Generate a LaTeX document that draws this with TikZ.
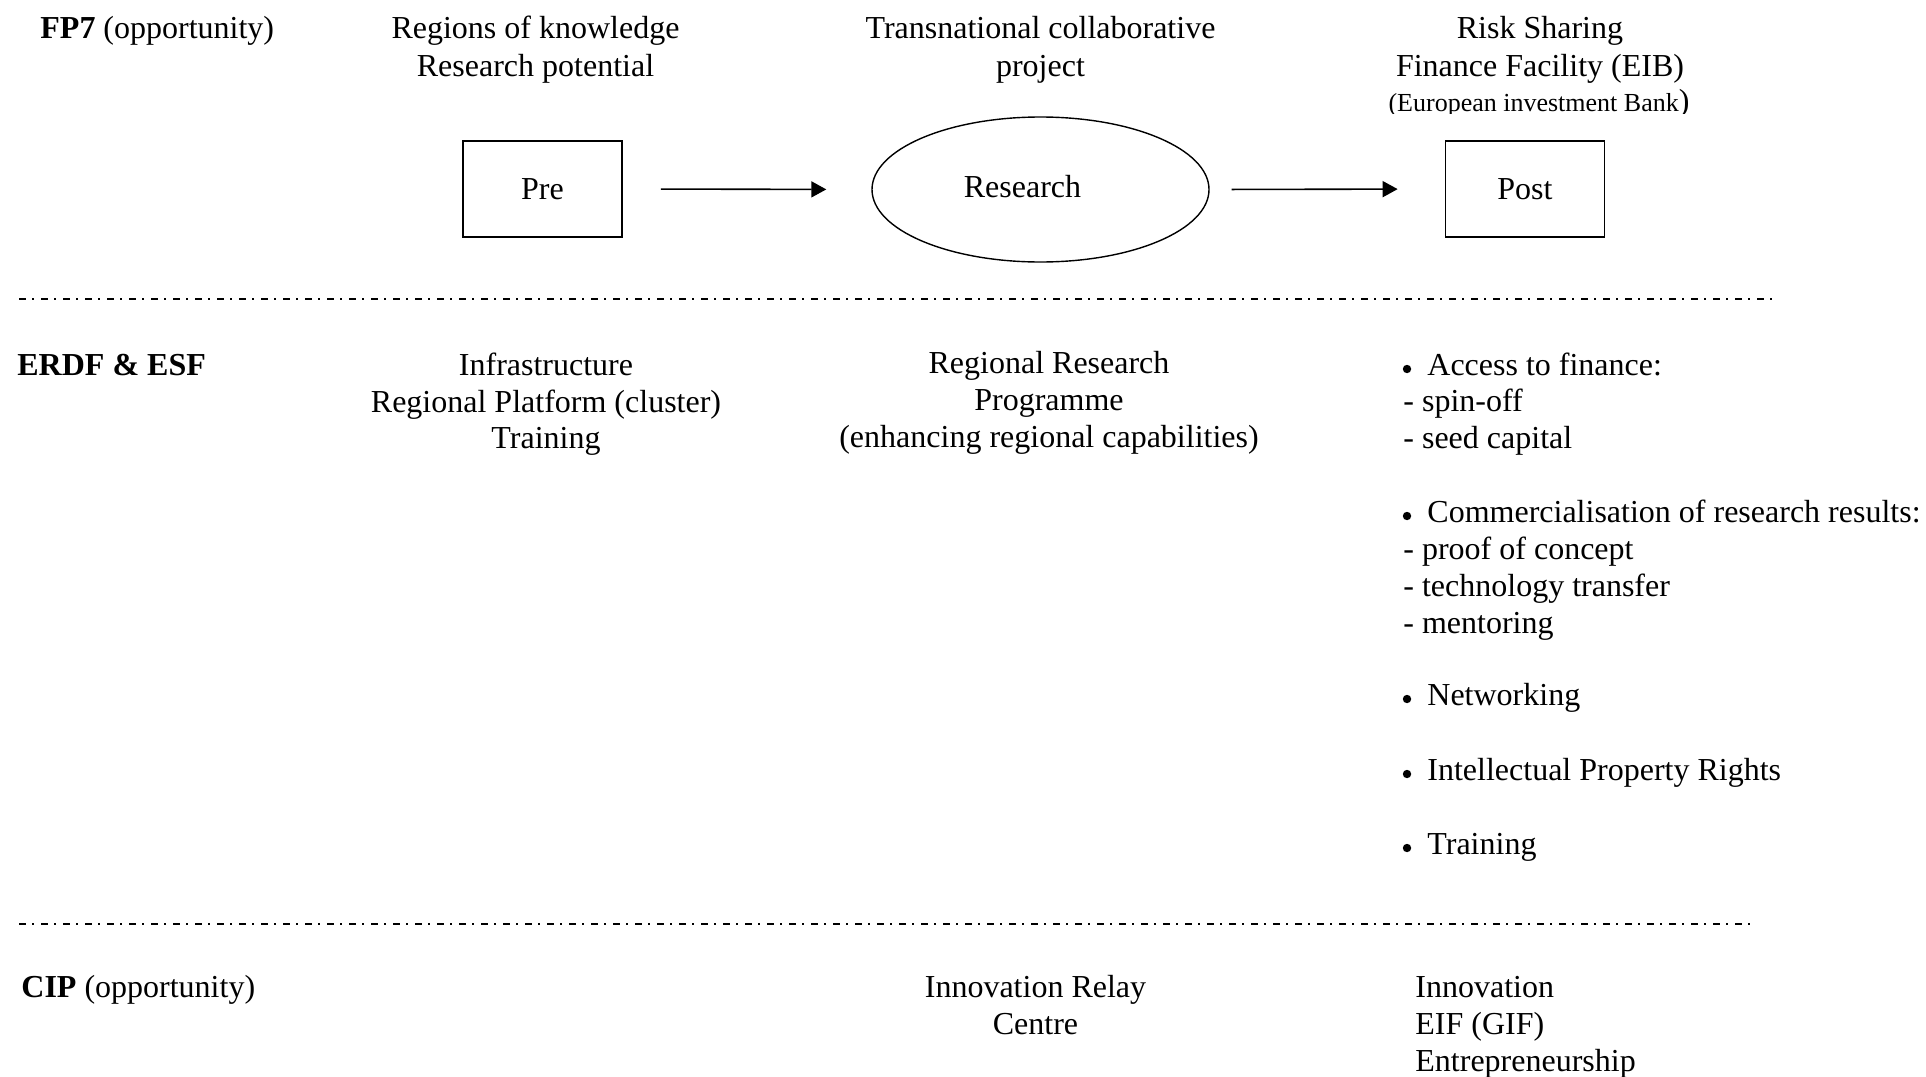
\documentclass[tikz,border=0pt]{standalone}
\usepackage{fontspec}
\setmainfont{Liberation Serif}
\usetikzlibrary{arrows.meta,shapes.geometric}

\begin{document}
\begin{tikzpicture}[x=0.5pt,y=-0.5pt,
  txt/.style={font=\fontsize{16}{18.5}\selectfont, inner sep=0pt, anchor=base},
  ltxt/.style={txt, anchor=base west},
  stagebox/.style={draw, line width=0.85pt, minimum width=79.5pt, minimum height=48pt,
    inner sep=0pt, font=\fontsize{16}{18.5}\selectfont},
  stageoval/.style={draw, ellipse, line width=0.7pt, minimum width=168.5pt,
    minimum height=72.5pt, inner sep=0pt},
  flow/.style={line width=0.8pt, -{Triangle[length=7.5pt,width=8pt]}},
  divider/.style={line width=1pt, dash pattern=on 3.5pt off 3pt on 0.75pt off 3.75pt},
  bul/.style={circle, fill, inner sep=0pt, minimum size=4.2pt}
]
\useasboundingbox (0,0) rectangle (1926,1076);

% ---------- FP7 row ----------
\node[ltxt] (fp7) at (40,39) {\textbf{FP7} (opportunity)};
\node[txt] (rk1) at (535.5,39) {Regions of knowledge};
\node[txt] (rk2) at (535.5,76) {Research potential};
\node[txt] (tc1) at (1040.5,39) {Transnational collaborative};
\node[txt] (tc2) at (1040.5,76) {project};
\node[txt] (rs1) at (1540,39) {Risk Sharing};
\node[txt] (rs2) at (1540,76) {Finance Facility (EIB)};
\begin{scope}
  \clip (1350,85) rectangle (1750,113);
  \node[txt] (rs3) at (1539,111.5)
    {\fontsize{13}{15}\selectfont(European investment Bank\fontsize{16}{18.5}\selectfont)};
\end{scope}

% stages
\node[stagebox] (pre) at (542.5,189) {Pre};
\node[stageoval] (res) at (1040.5,189.5) {};
\node[txt] (restxt) at (1022.5,197) {Research};
\node[stagebox] (post) at (1525,189) {Post};

\draw[flow, shorten <=19pt, shorten >=22.5pt] (pre.east) -- (res.west);
\draw[flow, shorten <=11pt, shorten >=23.5pt] (res.east) -- (post.west);

% ---------- dividers ----------
\coordinate (d1a) at (19,299);
\coordinate (d1b) at (1774,299);
\draw[divider] (d1a) -- (d1b);
\coordinate (d2a) at (19,923.5);
\coordinate (d2b) at (1753,923.5);
\draw[divider] (d2a) -- (d2b);

% ---------- ERDF & ESF row ----------
\node[ltxt] (erdf) at (17,375) {\textbf{ERDF \& ESF}};
\node[txt] (in1) at (546,375) {Infrastructure};
\node[txt] (in2) at (546,412) {Regional Platform (cluster)};
\node[txt] (in3) at (546,448.5) {Training};
\node[txt] (rr1) at (1049,373.5) {Regional Research};
\node[txt] (rr2) at (1049,410.5) {Programme};
\node[txt] (rr3) at (1049,447) {(enhancing regional capabilities)};

\node[bul] (b1) at (1407,369) {};
\node[ltxt] (af) at (1427,375) {Access to finance:};
\node[ltxt] (af1) at (1403,411.5) {- spin-off};
\node[ltxt] (af2) at (1403,448.5) {- seed capital};
\node[bul] (b2) at (1407,516) {};
\node[ltxt] (cr) at (1427,522) {Commercialisation of research results:};
\node[ltxt] (cr1) at (1403,559) {- proof of concept};
\node[ltxt] (cr2) at (1403,596) {- technology transfer};
\node[ltxt] (cr3) at (1403,633) {- mentoring};
\node[bul] (b3) at (1407,699) {};
\node[ltxt] (nw) at (1427,705) {Networking};
\node[bul] (b4) at (1407,774) {};
\node[ltxt] (ipr) at (1427,780) {Intellectual Property Rights};
\node[bul] (b5) at (1407,848) {};
\node[ltxt] (tr) at (1427,854) {Training};

% ---------- CIP row ----------
\node[ltxt] (cip) at (21,997.5) {\textbf{CIP} (opportunity)};
\node[txt] (ir1) at (1035.5,997.5) {Innovation Relay};
\node[txt] (ir2) at (1035.5,1034.5) {Centre};
\node[ltxt] (cp1) at (1415,997.5) {Innovation};
\node[ltxt] (cp2) at (1415,1034.5) {EIF (GIF)};
\node[ltxt] (cp3) at (1415,1071.5) {Entrepreneurship};
\end{tikzpicture}
\end{document}
